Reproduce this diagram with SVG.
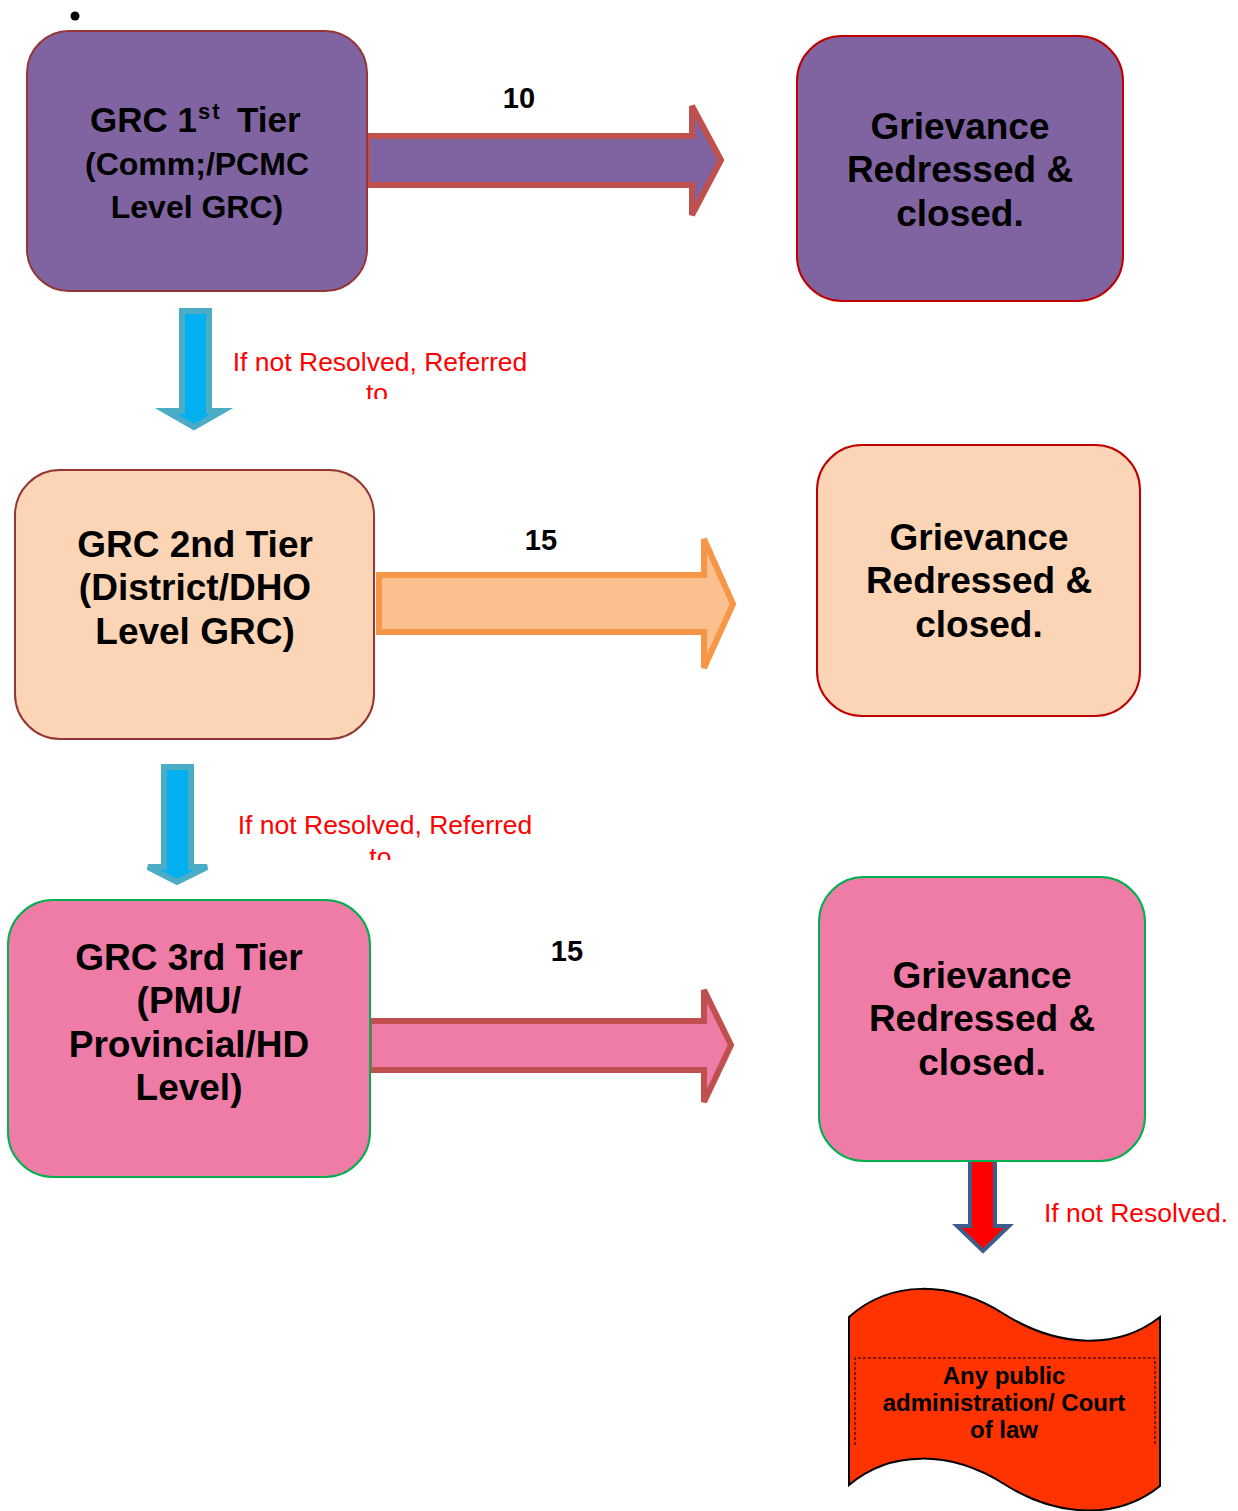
<svg xmlns="http://www.w3.org/2000/svg" width="1238" height="1511" viewBox="0 0 1238 1511">
<style>
.t{font-family:"Liberation Sans",Arial,sans-serif;font-weight:bold;fill:#000;text-anchor:middle}
.r{font-family:"Liberation Sans",Arial,sans-serif;font-size:26.5px;fill:#FF0000;text-anchor:middle}
.n{font-family:"Liberation Sans",Arial,sans-serif;font-weight:bold;font-size:29px;fill:#000;text-anchor:middle}
.big{font-size:37px}
.purple{fill:#8064A2}
.peach{fill:#FBD5B5}
.pink{fill:#EF7CA6}
.bl{fill:#00B0F0;stroke:#4BACC6;stroke-width:6;stroke-linejoin:miter}
</style>
<defs>
<clipPath id="c1"><rect x="200" y="340" width="360" height="59"/></clipPath>
<clipPath id="c2"><rect x="200" y="800" width="360" height="60"/></clipPath>
</defs>
<rect width="1238" height="1511" fill="#fff"/>
<circle cx="75" cy="16" r="4.5" fill="#000"/>

<g id="connectors">
<path d="M367,136 H692 V106 L721,160 L692,215 V185 H367 Z" fill="#8064A2" stroke="#C0504D" stroke-width="6"/>
<path d="M379,575 H704 V539 L733,604 L704,668 V632 H379 Z" fill="#FAC090" stroke="#F79646" stroke-width="6"/>
<path d="M369,1021 H704 V990 L731,1045 L704,1102 V1070 H369 Z" fill="#EF7CA6" stroke="#C0504D" stroke-width="6"/>
<path class="bl" d="M182,311 H209 V411 H222 L194,427 L166,411 H182 Z"/>
<path class="bl" d="M164,767 H191 V867 H207 L177,882 L148,867 H164 Z"/>
<path d="M970,1159 H995 V1226 H1009 L983,1251 L957,1226 H970 Z" fill="#FF0000" stroke="#3F5D8A" stroke-width="4"/>
<text class="n" x="519" y="108">10</text>
<text class="n" x="541" y="550">15</text>
<text class="n" x="567" y="961">15</text>
<g clip-path="url(#c1)">
<text class="r" x="380" y="371">If not Resolved, Referred</text>
<text class="r" x="377" y="402">to</text>
</g>
<g clip-path="url(#c2)">
<text class="r" x="385" y="834">If not Resolved, Referred</text>
<text class="r" x="384" y="866">to.</text>
</g>
<text class="r" x="1136" y="1222">If not Resolved.</text>
</g>

<g id="tier1">
<rect x="27" y="31" width="340" height="260" rx="42" class="purple" stroke="#943634" stroke-width="2"/>
<text class="t" style="text-anchor:start" font-size="35" x="90" y="132">GRC 1<tspan x="198" y="119" font-size="22" letter-spacing="2">st</tspan><tspan x="237" y="132">Tier</tspan></text>
<text class="t" font-size="32" x="197" y="175">(Comm;/PCMC</text>
<text class="t" font-size="32" x="197" y="218">Level GRC)</text>
</g>

<g id="closed1">
<rect x="797" y="36" width="326" height="265" rx="45" class="purple" stroke="#C00000" stroke-width="2"/>
<text class="t big" x="960" y="139">Grievance</text>
<text class="t big" x="960" y="182">Redressed &amp;</text>
<text class="t big" x="960" y="226">closed.</text>
</g>

<g id="tier2">
<rect x="15" y="470" width="359" height="269" rx="45" class="peach" stroke="#943634" stroke-width="2"/>
<text class="t big" x="195" y="557">GRC 2nd Tier</text>
<text class="t big" x="195" y="600">(District/DHO</text>
<text class="t big" x="195" y="644">Level GRC)</text>
</g>

<g id="closed2">
<rect x="817" y="445" width="323" height="271" rx="45" class="peach" stroke="#C00000" stroke-width="2"/>
<text class="t big" x="979" y="550">Grievance</text>
<text class="t big" x="979" y="593">Redressed &amp;</text>
<text class="t big" x="979" y="637">closed.</text>
</g>

<g id="tier3">
<rect x="8" y="900" width="362" height="277" rx="45" class="pink" stroke="#00B050" stroke-width="2"/>
<text class="t big" x="189" y="970">GRC 3rd Tier</text>
<text class="t big" x="189" y="1013">(PMU/</text>
<text class="t big" x="189" y="1057">Provincial/HD</text>
<text class="t big" x="189" y="1100">Level)</text>
</g>

<g id="closed3">
<rect x="819" y="877" width="326" height="284" rx="45" class="pink" stroke="#00B050" stroke-width="2"/>
<text class="t big" x="982" y="988">Grievance</text>
<text class="t big" x="982" y="1031">Redressed &amp;</text>
<text class="t big" x="982" y="1075">closed.</text>
</g>

<g id="court">
<path d="M849,1317 C890,1280 950,1280 1004,1314 C1058,1348 1118,1350 1160,1317 V1486 C1118,1520 1058,1518 1004,1484 C950,1450 890,1450 849,1485 Z" fill="#FF3300" stroke="#000" stroke-width="2"/>
<path d="M855,1445 V1358 H1155 V1445" fill="none" stroke="#000" stroke-width="1" stroke-dasharray="3,2"/>
<text class="t" font-size="24" x="1004" y="1384">Any public</text>
<text class="t" font-size="24" x="1004" y="1411">administration/ Court</text>
<text class="t" font-size="24" x="1004" y="1438">of law</text>
</g>
</svg>
